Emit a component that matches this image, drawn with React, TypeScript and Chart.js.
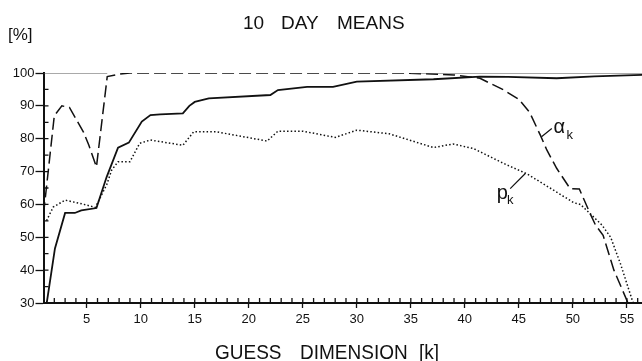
import { useEffect, useRef } from "react";
import { Chart, registerables } from "chart.js";
Chart.register(...registerables);

// alpha_k (dashed)
const alphaK = [1, 2, 2.7, 3.4, 4.7, 5.2, 5.9, 6.9, 8.1, 9, 20, 34.5, 39, 41.4, 42, 43.5, 45, 46, 47, 47.6, 48.5, 49.75, 50.6, 51.6, 52.1, 52.8, 53.8, 55, 55.1];
const alphaV = [57, 87, 90, 89.5, 82, 78, 71.4, 98.9, 99.7, 100, 100, 100, 99.4, 98.4, 97.4, 95, 92, 88, 81, 76.5, 71, 64.8, 64.7, 57.2, 53.7, 50.6, 40, 30.8, 30];

// solid curve
const solidK = [1.3, 2.06, 3, 3.9, 4.5, 5.9, 6.85, 7.9, 8.9, 10.1, 10.9, 11.8, 13.9, 14.5, 15, 16.3, 22, 22.7, 25.4, 27.8, 30, 37.1, 41.4, 44, 48.5, 52, 56.4];
const solidV = [30, 46.6, 57.4, 57.4, 58.2, 58.9, 68.4, 77.3, 78.8, 85.2, 87.2, 87.4, 87.7, 90, 91.2, 92.3, 93.3, 94.8, 95.8, 95.8, 97.4, 98.1, 98.9, 98.8, 98.4, 99, 99.4];

// p_k (dotted)
const pK = [1, 1.3, 1.9, 3, 4.4, 5.8, 6.85, 7.3, 7.9, 9, 9.9, 10.9, 13.9, 14.9, 17, 21.7, 22.7, 25, 28, 30, 33, 37.1, 38.9, 40.8, 43.9, 45.7, 46.7, 50.1, 50.7, 51.6, 52.7, 53.5, 54.4, 55.5, 55.6];
const pV = [54.4, 55.2, 59.2, 61.3, 60.3, 59.1, 66, 70.4, 73, 73, 78.6, 79.6, 78, 82.1, 82.1, 79.3, 82.3, 82.3, 80.4, 82.6, 81.5, 77.3, 78.4, 77, 72, 69.4, 67.4, 60.5, 60, 57.2, 53.7, 50, 42, 30.8, 30];

// 100 % reference line
const refK = [1, 6.9, 6.95, 35, 56.4];
const refV: (number | null)[] = [100, 100, null, 100, 100];

const xMajorTicks = [5, 10, 15, 20, 25, 30, 35, 40, 45, 50, 55];
const yTickLabels = [30, 40, 50, 60, 70, 80, 90, 100];

const FONT = "'Liberation Sans', Arial, sans-serif";

const pairs = (ks: number[], vs: (number | null)[]) => ks.map((k, i) => ({ x: k, y: vs[i] }));

const decor = {
  id: "decor",
  afterDraw(chart: any) {
    const { ctx, chartArea: a, scales } = chart;
    const x = scales.x;
    const y = scales.y;
    ctx.save();
    ctx.strokeStyle = "#111";
    ctx.lineWidth = 1.3;
    ctx.beginPath();
    for (let k = 2; k <= 56; k++) {
      const px = x.getPixelForValue(k);
      ctx.moveTo(px, a.bottom);
      ctx.lineTo(px, a.bottom - 5);
    }
    for (let v = 35; v <= 95; v += 5) {
      const py = y.getPixelForValue(v);
      ctx.moveTo(a.left, py);
      ctx.lineTo(a.left + 5, py);
    }
    ctx.stroke();

    ctx.fillStyle = "#111";
    ctx.textBaseline = "alphabetic";
    ctx.textAlign = "left";
    ctx.font = `19px ${FONT}`;
    ctx.fillText("10", 243, 29);
    ctx.fillText("DAY", 281, 29);
    ctx.fillText("MEANS", 337, 29);
    ctx.font = `17px ${FONT}`;
    ctx.fillText("[%]", 8, 40);
    ctx.font = `19px ${FONT}`;
    ctx.save();
    ctx.translate(0, 359);
    ctx.scale(1, 1.08);
    ctx.fillText("GUESS", 215, 0);
    ctx.fillText("DIMENSION", 300, 0);
    ctx.fillText("[k]", 419, 0);
    ctx.restore();

    // labels with leader lines (data coordinates)
    ctx.lineWidth = 1.2;
    ctx.beginPath();
    ctx.moveTo(x.getPixelForValue(47.1), y.getPixelForValue(80.6));
    ctx.lineTo(x.getPixelForValue(48.05), y.getPixelForValue(83.1));
    ctx.moveTo(x.getPixelForValue(44.2), y.getPixelForValue(64.8));
    ctx.lineTo(x.getPixelForValue(45.6), y.getPixelForValue(69.4));
    ctx.stroke();
    ctx.font = `20px ${FONT}`;
    ctx.fillText("α", x.getPixelForValue(48.2), y.getPixelForValue(81.6));
    ctx.fillText("p", x.getPixelForValue(42.95), y.getPixelForValue(61.8));
    ctx.font = `13px ${FONT}`;
    ctx.fillText("k", x.getPixelForValue(49.4), y.getPixelForValue(79.8));
    ctx.fillText("k", x.getPixelForValue(43.9), y.getPixelForValue(60));
    ctx.restore();
  },
};

export default function App() {
  const ref = useRef<HTMLCanvasElement>(null);
  useEffect(() => {
    if (!ref.current) return;
    const chart = new Chart(ref.current, {
      type: "line",
      data: {
        datasets: [
          { data: pairs(refK, refV), borderColor: "#555", borderWidth: 1, pointRadius: 0, spanGaps: false },
          { data: pairs(pK, pV), borderColor: "#111", borderWidth: 1.5, borderDash: [1.5, 2.2], pointRadius: 0 },
          { data: pairs(alphaK, alphaV), borderColor: "#111", borderWidth: 1.5, borderDash: [12, 5], pointRadius: 0 },
          { data: pairs(solidK, solidV), borderColor: "#111", borderWidth: 1.8, pointRadius: 0 },
        ],
      },
      options: {
        animation: false,
        responsive: false,
        events: [],
        layout: { padding: { top: 73, left: 0, right: 0, bottom: 0 } },
        plugins: { legend: { display: false }, tooltip: { enabled: false }, title: { display: false } },
        scales: {
          x: {
            type: "linear",
            min: 1,
            max: 56.4,
            afterFit: (s: any) => { s.height = 58; },
            afterBuildTicks: (s: any) => {
              const t = [];
              for (let k = 1; k <= 56; k++) t.push({ value: k });
              s.ticks = t;
            },
            ticks: {
              autoSkip: false,
              maxRotation: 0,
              padding: 4,
              color: "#111",
              font: { family: FONT, size: 13 },
              callback: (v: any) => (xMajorTicks.includes(Number(v)) ? String(v) : ""),
            },
            grid: {
              drawOnChartArea: false,
              drawTicks: true,
              tickLength: 5,
              tickWidth: 1.3,
              tickColor: (c: any) => (c.tick && xMajorTicks.includes(c.tick.value) ? "#111" : "rgba(0,0,0,0)"),
            },
            border: { display: true, color: "#111", width: 2 },
          },
          y: {
            type: "linear",
            min: 30,
            max: 100,
            afterFit: (s: any) => { s.width = 43.5; },
            afterBuildTicks: (s: any) => { s.ticks = yTickLabels.map((v) => ({ value: v })); },
            ticks: { padding: 1, color: "#111", font: { family: FONT, size: 13 } },
            grid: { drawOnChartArea: false, drawTicks: true, tickLength: 8, tickWidth: 1.3, tickColor: "#111" },
            border: { display: true, color: "#111", width: 2 },
          },
        },
      },
      plugins: [decor],
    });
    return () => chart.destroy();
  }, []);
  return (
    <div style={{ position: "fixed", left: 0, top: 0, width: 642, height: 361, background: "#fff" }}>
      <canvas ref={ref} width={642} height={361} style={{ width: 642, height: 361, display: "block" }} />
    </div>
  );
}
